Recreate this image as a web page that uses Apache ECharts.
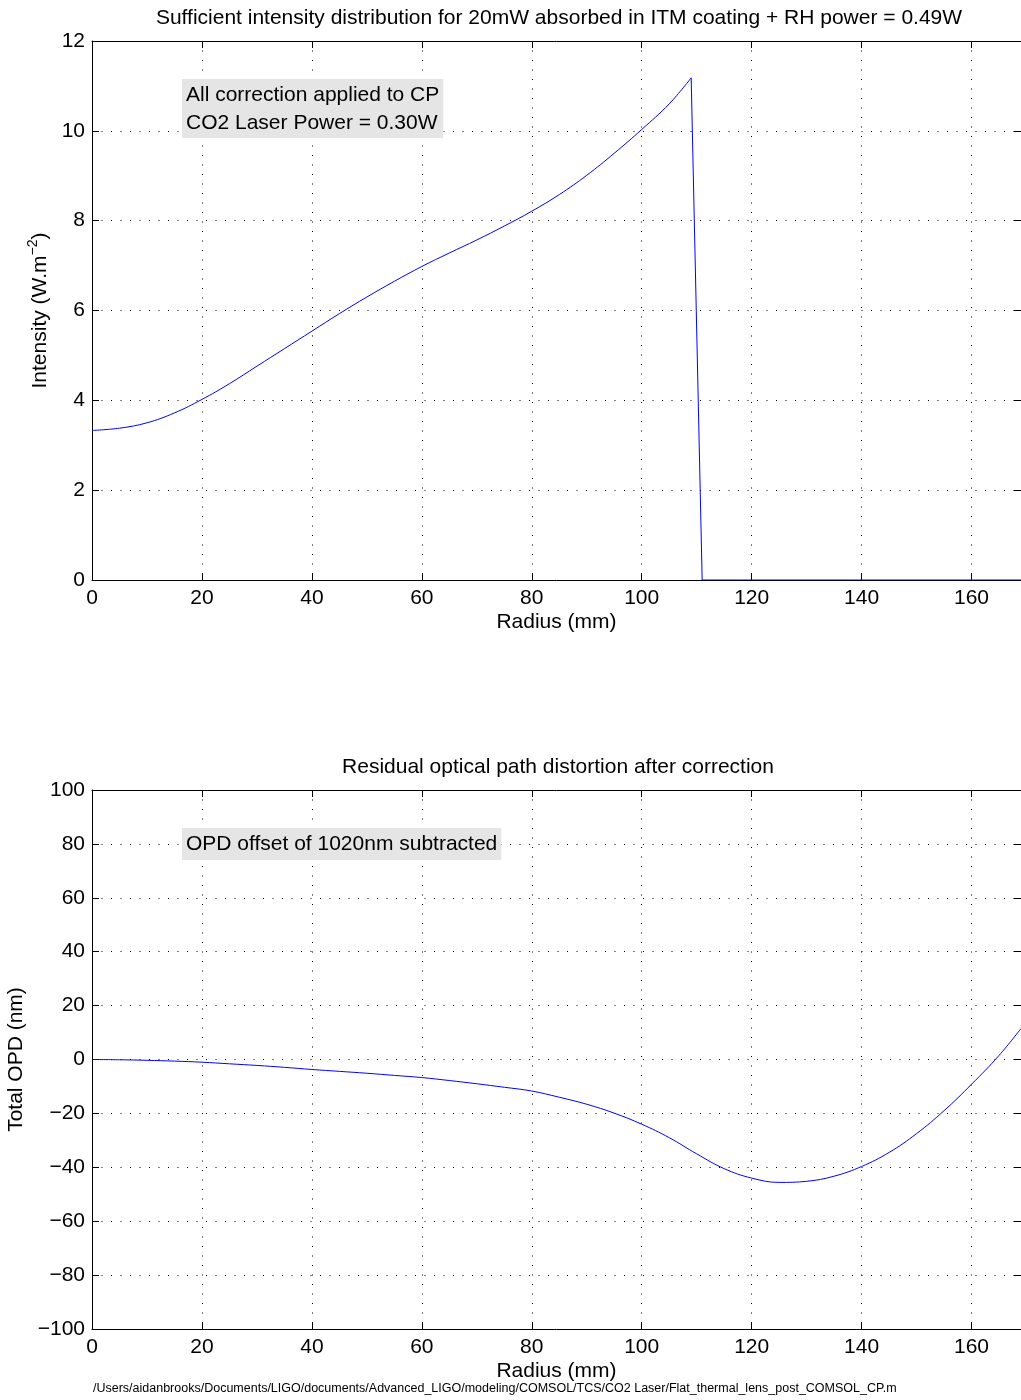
<!DOCTYPE html>
<html>
<head>
<meta charset="utf-8">
<script src="https://cdn.jsdelivr.net/npm/echarts@6/dist/echarts.min.js"></script>
<style>
  html, body { margin: 0; padding: 0; background: #fff; }
  #chart { width: 1021px; height: 1400px; }
</style>
</head>
<body>
<div id="chart"></div>
<script>
// intensity profile (top panel)
const radiusTop = [0, 5, 10, 15, 20, 25, 30, 35, 40, 45, 50, 55, 60, 65, 70, 75, 80, 85, 90, 95, 100, 105, 109];
const intensity = [3.33, 3.38, 3.50, 3.72, 4.02, 4.37, 4.76, 5.15, 5.54, 5.93, 6.30, 6.65, 6.98, 7.28, 7.57, 7.88, 8.21, 8.58, 9.01, 9.50, 10.03, 10.60, 11.18];
// cut-off edge of the profile
const radiusEdge = [109, 111, 169];
const intensityEdge = [11.18, 0, 0];

// residual OPD (bottom panel)
const radiusBot = [0, 5, 10, 15, 20, 25, 30, 35, 40, 45, 50, 55, 60, 65, 70, 75, 80, 85, 90, 95, 100, 105, 110, 115, 120, 125, 130, 135, 140, 145, 150, 155, 160, 165, 169];
const opd = [0, -0.1, -0.3, -0.6, -1.0, -1.6, -2.2, -2.9, -3.7, -4.4, -5.1, -5.9, -6.7, -7.8, -9.0, -10.3, -11.7, -14.0, -16.6, -19.9, -24.0, -29.0, -35.0, -40.5, -44.0, -45.6, -45.2, -43.3, -39.7, -34.5, -27.5, -19.0, -9.2, 1.5, 11.5];

const xTicks = { min: 0, max: 169, interval: 20 };
const yTopTicks = { min: 0, max: 12, interval: 2 };
const yBotTicks = { min: -100, max: 100, interval: 20 };

const FONT = 'Liberation Sans, Arial, Helvetica, sans-serif';
const FS = 21;
const pair = (xs, ys) => xs.map((x, i) => [x, ys[i]]);

const chart = echarts.init(document.getElementById('chart'), null, { renderer: 'canvas' });

const dotted = { show: true, lineStyle: { color: '#000', width: 1, type: [1, 8.5] } };
const frameLine = { show: true, onZero: false, lineStyle: { color: '#000', width: 1 } };
const tickIn = { show: true, inside: true, length: 7, lineStyle: { color: '#000', width: 1 } };
const minusFmt = v => String(v).replace('-', '\u2212');

function mainX(grid) {
    return {
        gridIndex: grid, type: 'value', position: 'bottom', ...xTicks,
        axisLine: frameLine, axisTick: tickIn, splitLine: dotted,
        axisLabel: { color: '#000', fontSize: FS, fontFamily: FONT, margin: 8, showMaxLabel: false },
        name: 'Radius (mm)', nameLocation: 'middle', nameGap: 32,
        nameTextStyle: { color: '#000', fontSize: FS, fontFamily: FONT, verticalAlign: 'top' }
    };
}
function frameX(grid) {
    return {
        gridIndex: grid, type: 'value', position: 'top', ...xTicks,
        axisLine: frameLine, axisTick: tickIn, axisLabel: { show: false }, splitLine: { show: false }
    };
}
function mainY(grid, ticks, name, gap, rich) {
    return {
        gridIndex: grid, type: 'value', position: 'left', ...ticks,
        axisLine: frameLine, axisTick: tickIn, splitLine: dotted,
        axisLabel: { color: '#000', fontSize: FS, fontFamily: FONT, margin: 7, formatter: minusFmt },
        name: name, nameLocation: 'middle', nameGap: gap, nameRotate: 90,
        nameTextStyle: { color: '#000', fontSize: FS, fontFamily: FONT, rich: rich }
    };
}
function frameY(grid, ticks) {
    return {
        gridIndex: grid, type: 'value', position: 'right', ...ticks,
        axisLine: frameLine, axisTick: tickIn, axisLabel: { show: false }, splitLine: { show: false }
    };
}

const supRich = {
    a: { color: '#000', fontSize: FS, fontFamily: FONT, lineHeight: 28 },
    s: { color: '#000', fontSize: 14, fontFamily: FONT, verticalAlign: 'top', lineHeight: 28, padding: [0, 0, 10, 0] }
};

const plainText = { color: '#000', fontSize: FS, fontWeight: 'normal', fontFamily: FONT };

chart.setOption({
    animation: false,
    backgroundColor: '#fff',
    title: [
        {
            text: 'Sufficient intensity distribution for 20mW absorbed in ITM coating + RH power = 0.49W',
            left: 559, top: 8, padding: 0, textAlign: 'center', textStyle: plainText
        },
        {
            text: 'Residual optical path distortion after correction',
            left: 558, top: 757, padding: 0, textAlign: 'center', textStyle: plainText
        },
        {
            text: 'All correction applied to CP\nCO2 Laser Power = 0.30W',
            left: 182, top: 79, padding: [2, 4, 1, 4], backgroundColor: '#e5e5e5',
            textStyle: { ...plainText, lineHeight: 28 }
        },
        {
            text: 'OPD offset of 1020nm subtracted',
            left: 182, top: 828, padding: [2, 4, 2, 4], backgroundColor: '#e5e5e5',
            textStyle: { ...plainText, lineHeight: 28 }
        },
        {
            text: '/Users/aidanbrooks/Documents/LIGO/documents/Advanced_LIGO/modeling/COMSOL/TCS/CO2 Laser/Flat_thermal_lens_post_COMSOL_CP.m',
            left: 93, top: 1382, padding: 0,
            textStyle: { color: '#000', fontSize: 12.5, fontWeight: 'normal', fontFamily: FONT }
        }
    ],
    grid: [
        { left: 92, top: 41, width: 929, height: 539, outerBoundsMode: 'none', containLabel: false },
        { left: 92, top: 790, width: 929, height: 539, outerBoundsMode: 'none', containLabel: false }
    ],
    xAxis: [mainX(0), frameX(0), mainX(1), frameX(1)],
    yAxis: [
        mainY(0, yTopTicks, '{a|Intensity (W.m}{s|\u22122}{a|)}', 35, supRich),
        frameY(0, yTopTicks),
        mainY(1, yBotTicks, 'Total OPD (nm)', 63, null),
        frameY(1, yBotTicks)
    ],
    series: [
        {
            type: 'line', xAxisIndex: 0, yAxisIndex: 0, data: pair(radiusTop, intensity),
            smooth: 0.4, showSymbol: false, lineStyle: { color: '#0000ff', width: 1 }
        },
        {
            type: 'line', xAxisIndex: 0, yAxisIndex: 0, data: pair(radiusEdge, intensityEdge),
            showSymbol: false, lineStyle: { color: '#0000ff', width: 1 }
        },
        {
            type: 'line', xAxisIndex: 2, yAxisIndex: 2, data: pair(radiusBot, opd),
            smooth: 0.4, showSymbol: false, lineStyle: { color: '#0000ff', width: 1 }
        }
    ]
});
</script>
</body>
</html>
